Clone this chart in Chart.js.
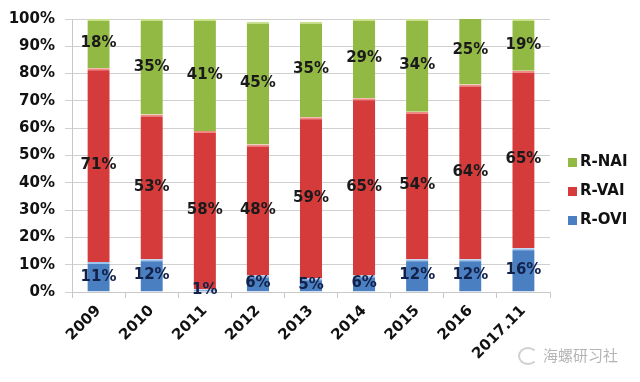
<!DOCTYPE html>
<html lang="zh">
<head>
    <meta charset="UTF-8">
    <title>R-OVI / R-VAI / R-NAI</title>
    <script src="https://cdn.jsdelivr.net/npm/chart.js"></script>
    <style>
        html, body { margin: 0; padding: 0; background: #fff; }
        #wrap { position: relative; width: 640px; height: 382px; }
        #mark {
            position: absolute; left: 543px; top: 344px;
            font-family: "Noto Sans CJK SC", sans-serif; font-size: 15px; color: #b4b4b4;
        }
        #logo {
            position: absolute; left: 518px; top: 347px; width: 16px; height: 14px;
            border: 2px solid #d0d0d0; border-radius: 50%; border-right-color: transparent;
        }
    </style>
</head>
<body>
    <div id="wrap">
        <canvas id="chart" width="640" height="382"></canvas>
        <div id="logo"></div>
        <div id="mark">海螺研习社</div>
    </div>

    <script>
        const years = ["2009", "2010", "2011", "2012", "2013", "2014", "2015", "2016", "2017.11"];
        const ovi = [11, 12, 1, 6, 5, 6, 12, 12, 16];
        const vai = [71, 53, 58, 48, 59, 65, 54, 64, 65];
        const nai = [18, 35, 41, 45, 35, 29, 34, 25, 19];
        const yTicks = [0, 10, 20, 30, 40, 50, 60, 70, 80, 90, 100];

        const FONT = "DejaVu Sans";

        // value labels in the middle of each segment
        const segmentLabels = {
            id: "segmentLabels",
            afterDatasetsDraw(chart) {
                const ctx = chart.ctx;
                ctx.save();
                ctx.font = "bold 15px " + FONT;
                ctx.textAlign = "center";
                ctx.textBaseline = "middle";
                chart.data.datasets.forEach((ds, i) => {
                    const meta = chart.getDatasetMeta(i);
                    meta.data.forEach((bar, j) => {
                        ctx.fillStyle = ds.labelColor;
                        ctx.fillText(ds.data[j] + "%", bar.x, (bar.y + bar.base) / 2);
                    });
                });
                ctx.restore();
            }
        };

        // legend on the right, reversed order like Excel
        const sideLegend = {
            id: "sideLegend",
            afterDraw(chart) {
                const ctx = chart.ctx;
                ctx.save();
                ctx.font = "bold 15px " + FONT;
                ctx.textBaseline = "middle";
                const list = chart.data.datasets.slice().reverse();
                list.forEach((ds, k) => {
                    const y = 162 + k * 29;
                    ctx.fillStyle = ds.backgroundColor;
                    ctx.fillRect(568, y - 4, 9, 9);
                    ctx.fillStyle = "#111";
                    ctx.fillText(ds.label, 580, y);
                });
                ctx.restore();
            }
        };

        new Chart(document.getElementById("chart"), {
            type: "bar",
            data: {
                labels: years,
                datasets: [
                    { label: "R-OVI", data: ovi, backgroundColor: "#4a7fc1", borderColor: "#9cc3ee", labelColor: "#12214a" },
                    { label: "R-VAI", data: vai, backgroundColor: "#d63b3c", borderColor: "#f28a84", labelColor: "#1a1a1a" },
                    { label: "R-NAI", data: nai, backgroundColor: "#93b945", borderColor: "#c9e08c", labelColor: "#1a1a1a" }
                ]
            },
            options: {
                responsive: false,
                animation: false,
                events: [],
                layout: { padding: { top: 10, right: 90, left: 0, bottom: 0 } },
                datasets: {
                    bar: {
                        categoryPercentage: 1,
                        barPercentage: 0.42,
                        borderWidth: { top: 2, left: 0, right: 0, bottom: 0 }
                    }
                },
                plugins: { legend: { display: false }, tooltip: { enabled: false } },
                scales: {
                    x: {
                        stacked: true,
                        offset: true,
                        grid: { drawOnChartArea: false, offset: true, color: "#c8c8c8", tickLength: 6 },
                        border: { color: "#c8c8c8" },
                        ticks: {
                            font: { family: FONT, size: 15, weight: "bold" },
                            color: "#111",
                            minRotation: 45,
                            maxRotation: 45,
                            padding: 4
                        },
                        afterFit(scale) { scale.height = 90; }
                    },
                    y: {
                        stacked: true,
                        min: 0,
                        max: 100,
                        afterBuildTicks(scale) { scale.ticks = yTicks.map(v => ({ value: v })); },
                        grid: { color: "#d0d0d0", tickLength: 7 },
                        border: { color: "#c8c8c8" },
                        ticks: {
                            font: { family: FONT, size: 15, weight: "bold" },
                            color: "#111",
                            padding: 10,
                            callback: v => v + "%"
                        },
                        afterFit(scale) { scale.width = 72; }
                    }
                }
            },
            plugins: [segmentLabels, sideLegend]
        });
    </script>
</body>
</html>
